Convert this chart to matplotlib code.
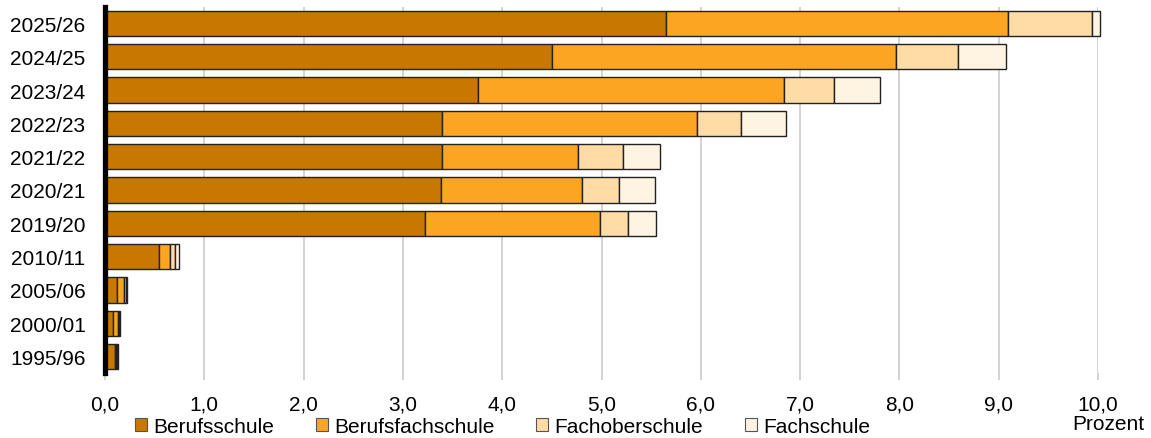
import matplotlib
matplotlib.use("Agg")
import matplotlib.pyplot as plt
from matplotlib.patches import Patch

plt.rcParams['font.family'] = ['Liberation Sans', 'DejaVu Sans']

# school years, bottom to top
years = ["1995/96", "2000/01", "2005/06", "2010/11", "2019/20", "2020/21",
         "2021/22", "2022/23", "2023/24", "2024/25", "2025/26"]

# share in percent per school type
berufsschule = [0.10, 0.085, 0.125, 0.54, 3.22, 3.38, 3.39, 3.39, 3.76, 4.50, 5.65]
berufsfachschule = [0.015, 0.045, 0.07, 0.11, 1.76, 1.42, 1.37, 2.57, 3.08, 3.47, 3.44]
fachoberschule = [0.01, 0.01, 0.015, 0.06, 0.29, 0.38, 0.46, 0.44, 0.50, 0.62, 0.85]
fachschule = [0.01, 0.01, 0.015, 0.04, 0.28, 0.36, 0.37, 0.46, 0.46, 0.48, 0.08]

series = [("Berufsschule", berufsschule, "#C87800"),
          ("Berufsfachschule", berufsfachschule, "#FCA523"),
          ("Fachoberschule", fachoberschule, "#FFDCA5"),
          ("Fachschule", fachschule, "#FFF3E2")]

fig = plt.figure(figsize=(11.51, 4.39), dpi=100)
ax = fig.add_axes([0.0912, 0.1476, 0.8628, 0.8347])

left = [0.0] * len(years)
handles = []
for name, vals, col in series:
    ax.barh(range(len(years)), vals, left=left, height=0.76, color=col,
            edgecolor="#222222", linewidth=1.0, clip_on=False, zorder=3)
    left = [l + v for l, v in zip(left, vals)]
    handles.append(Patch(facecolor=col, edgecolor="#555555", linewidth=0.8))

ax.set_xlim(0, 10)
ax.set_ylim(-0.5, len(years) - 0.5)
ax.set_yticks(range(len(years)))
ax.set_yticklabels(years, fontsize=15)
ax.set_xticks(range(11))
ax.set_xticklabels([f"{i},0" for i in range(11)], fontsize=15)
ax.tick_params(axis="y", length=0, pad=14)
ax.tick_params(axis="x", length=5, color="#CCCCCC", width=1.2, pad=10)
ax.grid(axis="x", color="#CCCCCC", linewidth=1.2, zorder=0)

for s in ["top", "right", "bottom"]:
    ax.spines[s].set_visible(False)
ax.spines["left"].set_linewidth(3.8)
ax.spines["left"].set_color("black")
ax.spines["left"].set_zorder(5)

fig.text(0.963, 0.034, "Prozent", fontsize=15, ha="center", va="center")

fig.legend(handles, [s[0] for s in series], loc="center left",
           bbox_to_anchor=(0.117, 0.026), ncol=4, fontsize=15, frameon=False,
           handlelength=0.58, handleheight=0.58, handletextpad=0.3,
           columnspacing=2.0, borderpad=0, borderaxespad=0)

fig.savefig("out.png", dpi=100)
